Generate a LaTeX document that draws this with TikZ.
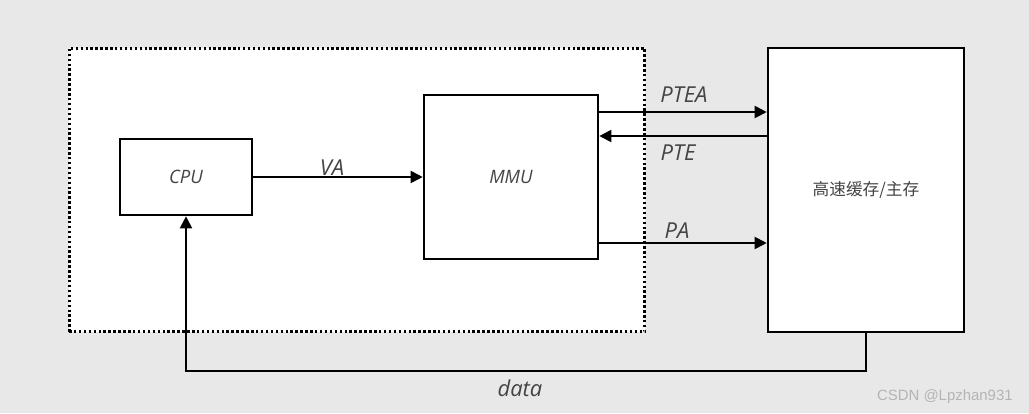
\documentclass[tikz,border=0pt]{standalone}
\usepackage{fontspec}
\setmainfont{Open Sans}
\newfontfamily\cjk{Noto Sans CJK SC}
\newfontfamily\wmfont{Liberation Sans}
\usepackage{tikz}
\usetikzlibrary{arrows, arrows.meta}
\usetikzlibrary{positioning}
\usepackage{xcolor}

\definecolor{bggray}{HTML}{E8E8E8}
\definecolor{txtgray}{HTML}{444444}
\definecolor{wmgray}{HTML}{B4B4B4}

\tikzset{
  unitbox/.style={draw=black, line width=1.5pt, fill=white, inner sep=0pt,
    text=txtgray, font=\fontsize{10.5}{12}\selectfont\itshape},
  sig/.style={line width=1.1pt, -{Triangle[length=2.4mm, width=2.4mm]}},
  siglabel/.style={text=txtgray, font=\fontsize{12.5}{14}\selectfont\itshape, inner sep=0pt}
}

\begin{document}
\begin{tikzpicture}[x=0.02cm, y=-0.02cm]

%background
\fill[bggray] (0,0) rectangle (1029,413);
\useasboundingbox (0,0) rectangle (1029,413);

%boxes
\node[draw=black, line width=1.7pt, dash pattern=on 1.4pt off 1.4pt, fill=white, minimum width=11.52cm, minimum height=5.68cm] (chip) at (357,190) {};
\node[unitbox, minimum width=2.64cm, minimum height=1.52cm] (cpu) at (186,177) {CPU};
\node[unitbox, minimum width=3.48cm, minimum height=3.28cm] (mmu) at (511,177) {MMU};
\node[unitbox, minimum width=3.92cm, minimum height=5.68cm, font=\fontsize{9.5}{11}\selectfont\cjk] (mem) at (866,190) {高速缓存/主存};

%signals
\draw[sig] (cpu.east) -- (mmu.west);
\draw[sig] ([yshift=1.3cm]mmu.east) -- ([yshift=1.3cm]mmu.east -| mem.west);
\draw[sig] ([yshift=0.82cm]mmu.east -| mem.west) -- ([yshift=0.82cm]mmu.east);
\draw[sig] ([yshift=-1.32cm]mmu.east) -- ([yshift=-1.32cm]mmu.east -| mem.west);
\draw[sig] (mem.south) -- ++(0,38) -| (cpu.south);

%labels
\node[siglabel] (va) at (332,168) {VA};
\node[siglabel] (ptea) at (684,95) {PTEA};
\node[siglabel] (pte) at (678,153) {PTE};
\node[siglabel] (pa) at (677,231) {PA};
\node[siglabel] (data) at (520,388) {data};

\node[text=wmgray, font=\wmfont\fontsize{8.5}{10}\selectfont, anchor=east, inner sep=0pt] (wm) at (1013,397) {CSDN @Lpzhan931};

\end{tikzpicture}
\end{document}
